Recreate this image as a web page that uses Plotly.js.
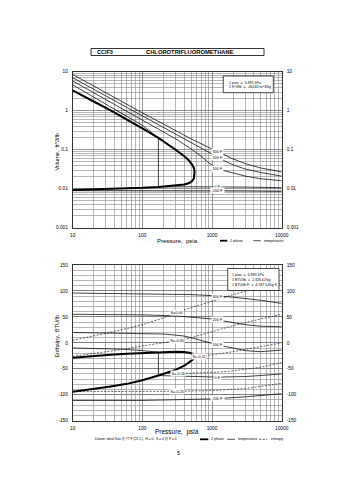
<!DOCTYPE html>
<html><head><meta charset="utf-8">
<script src="https://cdn.plot.ly/plotly-3.0.1.min.js"></script>
<style>html,body{margin:0;padding:0;background:#fff}#chart{width:355px;height:480px}</style>
</head><body><div id="chart"></div>
<script>
// ---------- DATA ----------
// saturation dome (pressure psia)
const satP   = [10, 20, 35, 60, 100, 170, 300, 400, 470, 520, 550, 561];
const vLiq   = [0.0093, 0.0096, 0.0099, 0.0102, 0.0105, 0.0111, 0.0119, 0.0128, 0.0140, 0.0158, 0.0185, 0.0277];
const vVap   = [3.3, 1.72, 1.02, 0.6, 0.35, 0.2, 0.1, 0.068, 0.052, 0.041, 0.034, 0.0277];
const hLiq   = [-94, -89, -84, -79, -72, -63, -52, -44, -38, -33, -30, -27];
const hVap   = [-28.5, -25.5, -23, -21, -19.5, -18, -17, -17.5, -19, -21, -23.5, -27];

// isotherms, volume chart
const tLabels = ['300 F', '200 F', '100 F', '0 F', '-200 F'];
const vT300P = [10, 100, 500, 1000, 1500, 2000, 3000, 5000, 10000];
const vT300  = [8.5, 0.88, 0.19, 0.105, 0.075, 0.058, 0.044, 0.034, 0.027];
const vT200P = [10, 100, 500, 1000, 1500, 2000, 3000, 5000, 10000];
const vT200  = [7.0, 0.72, 0.15, 0.075, 0.052, 0.041, 0.032, 0.026, 0.021];
const vT100P = [10, 100, 300, 500, 700, 900, 1100, 1500, 2000, 3000, 5000, 10000];
const vT100  = [5.8, 0.59, 0.19, 0.105, 0.068, 0.046, 0.036, 0.029, 0.025, 0.021, 0.018, 0.016];
const vT0P   = [10, 20, 50, 100, 170, 170, 500, 1000, 3000, 10000];
const vT0    = [4.6, 2.25, 0.88, 0.42, 0.2, 0.0111, 0.0112, 0.0113, 0.0110, 0.0106];
const vTm200P = [10, 100, 1000, 3000, 10000];
const vTm200  = [0.0089, 0.0089, 0.0088, 0.0087, 0.0085];

// isotherms, enthalpy chart
const hT300P = [10, 100, 500, 1000, 2000, 5000, 10000];
const hT300  = [96, 95, 93, 91, 88, 82, 76];
const hT200P = [10, 100, 300, 500, 1000, 1500, 2000, 3000, 5000, 10000];
const hT200  = [55, 54, 52, 50, 46, 42, 39, 35, 32, 31];
const hT100P = [10, 100, 200, 300, 400, 500, 600, 700, 900, 1200, 2000, 3000, 5000, 10000];
const hT100  = [20, 18.5, 17, 15, 13, 10, 7, 4, 0, -4, -10, -15, -17, -14];
const hT0P   = [10, 50, 100, 170, 170, 500, 1200, 3000, 10000];
const hT0    = [-10, -12, -15, -18, -63, -65, -66, -65, -60];
const hTm200P = [10, 100, 1000, 3000, 10000];
const hTm200  = [-111, -111, -108, -104, -98];

// isentropes, enthalpy chart
const sLabels = ['S=0.00', 'S=-0.05', 'S=-0.11', 'S=-0.16', 'S=-0.25'];
const s000P = [10, 20, 50, 100, 200, 311, 500, 1000, 2000, 5000, 10000];
const s000  = [5, 13, 25, 35, 48, 58, 68, 80, 93, 107, 115];
const s005P = [10, 20, 50, 100, 200, 311, 500, 1000, 2000, 5000, 10000];
const s005  = [-26, -21, -13, -6, 0, 4, 10, 21, 33, 46, 55];
const s011P = [561, 700, 1000, 2000, 5000, 10000];
const s011  = [-27, -26, -23, -17, -8, 0];
const s016P = [210, 311, 500, 1000, 2000, 5000, 10000];
const s016  = [-59, -59, -58.5, -57, -54, -47, -38];
const s025P = [10, 100, 311, 1000, 3000, 10000];
const s025  = [-94, -93.8, -93.3, -92, -88, -78];

// tick labels
const xTicks = [10, 100, 1000, 10000];
const xTickText = ['10', '100', '1000', '10000'];
const vTicks = [0.001, 0.01, 0.1, 1, 10];
const vTickText = ['0.001', '0.01', '0.1', '1', '10'];
const hTicks = [-150, -100, -50, 0, 50, 100, 150];

// ---------- HELPERS ----------
const W = 355, H = 480;
const px = x => x / W;
const py = y => 1 - y / H;
function interp(P, Y, p, logY) {
  const lp = Math.log10(p);
  for (let i = 0; i < P.length - 1; i++) {
    const a = Math.log10(P[i]), b = Math.log10(P[i + 1]);
    if (lp >= a && lp <= b && b > a) {
      const t = (lp - a) / (b - a);
      if (logY) return Math.pow(10, Math.log10(Y[i]) + t * (Math.log10(Y[i + 1]) - Math.log10(Y[i])));
      return Y[i] + t * (Y[i + 1] - Y[i]);
    }
  }
  return Y[Y.length - 1];
}
const FONT = 'Liberation Sans, Arial, sans-serif';
const thick = {color: '#000', width: 2};
const thin = {color: '#111', width: 0.8};
const dash = {color: '#222', width: 0.7, dash: '2px,1.5px'};

// full dome (liquid up then vapor back)
const domeP = satP.concat(satP.slice(0, -1).reverse());
const domeV = vLiq.concat(vVap.slice(0, -1).reverse());
const domeH = hLiq.concat(hVap.slice(0, -1).reverse());

const traces = [];
function add(x, y, line, xa, ya) {
  traces.push({type: 'scatter', mode: 'lines', x: x, y: y, line: line, xaxis: xa, yaxis: ya,
    hoverinfo: 'skip', showlegend: false});
}
// top chart
add(vT300P, vT300, thin, 'x', 'y');
add(vT200P, vT200, thin, 'x', 'y');
add(vT100P, vT100, thin, 'x', 'y');
add(vT0P, vT0, thin, 'x', 'y');
add(vTm200P, vTm200, thin, 'x', 'y');
add(domeP, domeV, thick, 'x', 'y');
add(domeP, domeV, {color: 'rgba(0,0,0,0)', width: 0}, 'x', 'y3');
// bottom chart
add(hT300P, hT300, thin, 'x2', 'y2');
add(hT200P, hT200, thin, 'x2', 'y2');
add(hT100P, hT100, thin, 'x2', 'y2');
add(hT0P, hT0, thin, 'x2', 'y2');
add(hTm200P, hTm200, thin, 'x2', 'y2');
add(s000P, s000, dash, 'x2', 'y2');
add(s005P, s005, dash, 'x2', 'y2');
add(s011P, s011, dash, 'x2', 'y2');
add(s016P, s016, dash, 'x2', 'y2');
add(s025P, s025, dash, 'x2', 'y2');
add(domeP, domeH, thick, 'x2', 'y2');
add(domeP, domeH, {color: 'rgba(0,0,0,0)', width: 0}, 'x2', 'y4');

// minor grid positions
const minorX = [], minorV = [];
[10, 100, 1000].forEach(d => { for (let k = 2; k <= 9; k++) minorX.push(k * d); });
[0.001, 0.01, 0.1, 1].forEach(d => { for (let k = 2; k <= 9; k++) minorV.push(+(k * d).toPrecision(3)); });

const GRID = '#666', MGRID = '#858585';
const tf = {family: FONT, size: 4.8, color: '#000'};
function xAx(dom, anchor) {
  return {type: 'log', range: [1, 4], domain: dom, anchor: anchor, tickmode: 'array', tickvals: xTicks,
    ticktext: xTickText, tickfont: tf, showgrid: true, gridcolor: GRID, gridwidth: 0.7,
    minor: {tickmode: 'array', tickvals: minorX, showgrid: true, gridcolor: MGRID, gridwidth: 0.6, ticks: ''},
    showline: true, linecolor: '#000', linewidth: 0.8, mirror: true, ticks: 'outside', ticklen: 3,
    tickcolor: 'rgba(0,0,0,0)', zeroline: false, fixedrange: true};
}
const yTopDom = [py(227.7), py(71.7)];
const yBotDom = [py(420.7), py(265)];
function yLog(side, over) {
  const a = {type: 'log', range: [-3, 1], domain: yTopDom, anchor: 'x', side: side, tickmode: 'array',
    tickvals: vTicks, ticktext: vTickText, tickfont: tf, ticks: 'outside', ticklen: 3,
    tickcolor: 'rgba(0,0,0,0)', zeroline: false, fixedrange: true};
  if (over) { a.overlaying = 'y'; a.showgrid = false; a.showline = false; }
  else { a.showgrid = true; a.gridcolor = GRID; a.gridwidth = 0.7; a.showline = true; a.linecolor = '#000';
    a.linewidth = 0.8; a.mirror = true;
    a.minor = {tickmode: 'array', tickvals: minorV, showgrid: true, gridcolor: MGRID, gridwidth: 0.6, ticks: ''}; }
  return a;
}
function yLin(side, over) {
  const a = {type: 'linear', range: [-150, 150], domain: yBotDom, anchor: 'x2', side: side, tickmode: 'array',
    tickvals: hTicks, ticktext: hTicks.map(String), tickfont: tf, ticks: 'outside', ticklen: 3,
    tickcolor: 'rgba(0,0,0,0)', zeroline: false, fixedrange: true};
  if (over) { a.overlaying = 'y2'; a.showgrid = false; a.showline = false; }
  else { a.showgrid = true; a.gridcolor = GRID; a.gridwidth = 0.7; a.showline = true; a.linecolor = '#000';
    a.linewidth = 0.8; a.mirror = true;
    a.minor = {dtick: 10, showgrid: true, gridcolor: MGRID, gridwidth: 0.6, ticks: ''}; }
  return a;
}

// ---------- ANNOTATIONS ----------
const ann = [];
function txt(x, y, s, o) {
  ann.push(Object.assign({xref: 'paper', yref: 'paper', x: px(x), y: py(y), text: s, showarrow: false,
    font: {family: FONT, size: 5, color: '#000'}, xanchor: 'left', yanchor: 'middle'}, o || {}));
}
function lbl(xa, ya, p, yv, s, logY) {
  ann.push({xref: xa, yref: ya, x: Math.log10(p), y: logY ? Math.log10(yv) : yv, text: s, showarrow: false,
    font: {family: FONT, size: 3.8, color: '#000'}, bgcolor: '#fff', borderpad: 0.5,
    xanchor: 'center', yanchor: 'middle'});
}
// title
txt(95, 52, '<b>CClF3</b>', {font: {family: FONT, size: 5.5, color: '#000'}});
txt(190, 52, '<b>CHLOROTRIFLUOROMETHANE</b>', {xanchor: 'center', font: {family: FONT, size: 5.8, color: '#000'}});
// axis titles
txt(177, 240.5, 'Pressure,  psia', {xanchor: 'center', font: {family: FONT, size: 6, color: '#000'}});
txt(177, 432, 'Pressure,  psia', {xanchor: 'center', font: {family: FONT, size: 6.5, color: '#000'}});
txt(56.5, 152, 'Volume,  ft^3/lb', {xanchor: 'center', textangle: -90, font: {family: FONT, size: 5.5, color: '#000'}});
txt(56.5, 337, 'Enthalpy,  BTU/lb', {xanchor: 'center', textangle: -90, font: {family: FONT, size: 5.5, color: '#000'}});
// conversion boxes
txt(226.5, 82.5, '1 psia  =  6.895 kPa', {font: {family: FONT, size: 3.6, color: '#000'}});
txt(226.5, 87.5, '1 ft^3/lb  =  .06243 m^3/kg', {font: {family: FONT, size: 3.6, color: '#000'}});
txt(230, 275, '1 psia  =  6.895 kPa', {font: {family: FONT, size: 3.6, color: '#000'}});
txt(230, 280, '1 BTU/lb  =  2.326 kJ/kg', {font: {family: FONT, size: 3.6, color: '#000'}});
txt(230, 285, '1 BTU/lb F  =  4.187 kJ/kg K', {font: {family: FONT, size: 3.6, color: '#000'}});
// legends
txt(228, 240.7, '2 phase', {font: {family: FONT, size: 3.6, color: '#000'}});
txt(262, 240.7, 'temperature', {font: {family: FONT, size: 3.6, color: '#000'}});
txt(93, 439.3, 'Datum: Ideal Gas @ 77 F (25 C),  H = 0,  S = 0 @ P = 0', {font: {family: FONT, size: 3.3, color: '#000'}});
txt(209, 439.3, '2 phase', {font: {family: FONT, size: 3.6, color: '#000'}});
txt(236, 439.3, 'temperature', {font: {family: FONT, size: 3.6, color: '#000'}});
txt(268.5, 439.3, 'entropy', {font: {family: FONT, size: 3.6, color: '#000'}});
txt(178, 453, '5', {xanchor: 'center', font: {family: FONT, size: 5.5, color: '#000'}});

const pT = 1200;
lbl('x', 'y', pT, interp(vT300P, vT300, pT, true), tLabels[0], true);
lbl('x', 'y', pT, interp(vT200P, vT200, pT, true), tLabels[1], true);
lbl('x', 'y', pT, interp(vT100P, vT100, pT, true), tLabels[2], true);
lbl('x', 'y', pT, interp(vT0P, vT0, pT, true), tLabels[3], true);
lbl('x', 'y', pT, interp(vTm200P, vTm200, pT, true), tLabels[4], true);
lbl('x2', 'y2', pT, interp(hT300P, hT300, pT, false), tLabels[0], false);
lbl('x2', 'y2', pT, interp(hT200P, hT200, pT, false), tLabels[1], false);
lbl('x2', 'y2', pT, interp(hT100P, hT100, pT, false), tLabels[2], false);
lbl('x2', 'y2', pT, interp(hT0P, hT0, pT, false), tLabels[3], false);
lbl('x2', 'y2', pT, interp(hTm200P, hTm200, pT, false), tLabels[4], false);
lbl('x2', 'y2', 311, interp(s000P, s000, 311, false), sLabels[0], false);
lbl('x2', 'y2', 311, interp(s005P, s005, 311, false), sLabels[1], false);
lbl('x2', 'y2', 650, interp(s011P, s011, 650, false), sLabels[2], false);
lbl('x2', 'y2', 330, interp(s016P, s016, 330, false), sLabels[3], false);
lbl('x2', 'y2', 311, interp(s025P, s025, 311, false), sLabels[4], false);

// ---------- SHAPES ----------
const shapes = [
  {type: 'rect', xref: 'paper', yref: 'paper', x0: px(91), x1: px(264), y0: py(55.5), y1: py(48.5),
    line: {color: '#000', width: 0.8}},
  {type: 'rect', xref: 'paper', yref: 'paper', x0: px(223.3), x1: px(273.3), y0: py(92.7), y1: py(76),
    line: {color: '#000', width: 0.7}, fillcolor: '#fff', layer: 'above'},
  {type: 'rect', xref: 'paper', yref: 'paper', x0: px(227.7), x1: px(279), y0: py(290.5), y1: py(268.5),
    line: {color: '#000', width: 0.7}, fillcolor: '#fff', layer: 'above'},
  {type: 'line', xref: 'paper', yref: 'paper', x0: px(220), x1: px(227.3), y0: py(240.7), y1: py(240.7), line: {color: '#000', width: 1.8}},
  {type: 'line', xref: 'paper', yref: 'paper', x0: px(253.3), x1: px(260.7), y0: py(240.7), y1: py(240.7), line: {color: '#000', width: 0.7}},
  {type: 'line', xref: 'paper', yref: 'paper', x0: px(200), x1: px(208.3), y0: py(439.3), y1: py(439.3), line: {color: '#000', width: 1.8}},
  {type: 'line', xref: 'paper', yref: 'paper', x0: px(227.3), x1: px(235), y0: py(439.3), y1: py(439.3), line: {color: '#000', width: 0.7}},
  {type: 'line', xref: 'paper', yref: 'paper', x0: px(259.3), x1: px(267.3), y0: py(439.3), y1: py(439.3), line: {color: '#000', width: 0.7, dash: '2px,1.5px'}}
];

const layout = {
  width: W, height: H, margin: {l: 0, r: 0, t: 0, b: 0}, paper_bgcolor: '#fff', plot_bgcolor: '#fff',
  showlegend: false, font: {family: FONT, size: 5, color: '#000'},
  xaxis: xAx([px(72.7), px(281.7)], 'y'),
  xaxis2: xAx([px(72.7), px(281.7)], 'y2'),
  yaxis: yLog('left', false),
  yaxis3: yLog('right', true),
  yaxis2: yLin('left', false),
  yaxis4: yLin('right', true),
  annotations: ann, shapes: shapes
};
Plotly.newPlot('chart', traces, layout, {displayModeBar: false, staticPlot: true});
</script></body></html>
